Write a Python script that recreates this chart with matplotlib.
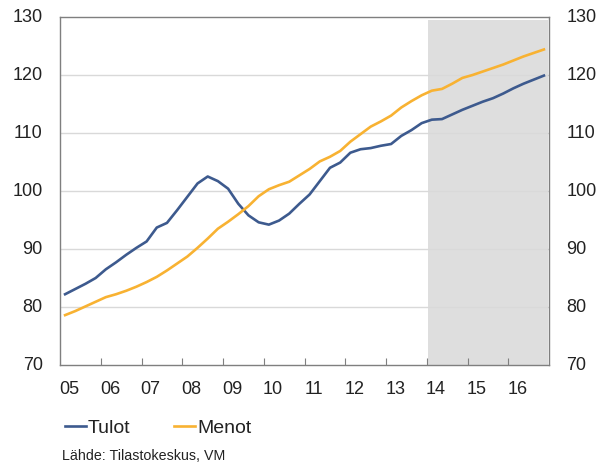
import matplotlib
matplotlib.use("Agg")
import matplotlib.pyplot as plt
import numpy as np

plt.rcParams['font.family'] = ['Liberation Sans', 'DejaVu Sans']

# Quarterly index values, 2005Q1 .. 2016Q4
years = ['05', '06', '07', '08', '09', '10', '11', '12', '13', '14', '15', '16']
tulot = [82.2, 83.1, 84.0, 85.0, 86.5, 87.7, 89.0, 90.2,
         91.3, 93.7, 94.5, 96.7, 99.0, 101.3, 102.5, 101.7,
         100.4, 97.8, 95.8, 94.6, 94.2, 94.9, 96.1, 97.8,
         99.4, 101.7, 104.0, 104.9, 106.6, 107.2, 107.4, 107.8,
         108.1, 109.5, 110.5, 111.7, 112.3, 112.4, 113.2, 114.0,
         114.7, 115.4, 116.0, 116.8, 117.7, 118.5, 119.2, 119.9]
menot = [78.6, 79.3, 80.1, 80.9, 81.7, 82.2, 82.8, 83.5,
         84.3, 85.2, 86.3, 87.5, 88.7, 90.2, 91.8, 93.5,
         94.7, 96.0, 97.4, 99.1, 100.3, 101.0, 101.6, 102.7,
         103.8, 105.1, 105.9, 106.9, 108.5, 109.8, 111.1, 112.0,
         113.0, 114.4, 115.5, 116.5, 117.3, 117.6, 118.5, 119.5,
         120.0, 120.6, 121.2, 121.8, 122.5, 123.2, 123.8, 124.4]
forecast_start = '14'

BLUE = '#3D5A8E'
ORANGE = '#F8B232'
GRID = '#D9D9D9'
SPINE = '#7F7F7F'
TEXT = '#222222'

fig = plt.figure(figsize=(6.03, 4.66), dpi=100)
ax = fig.add_axes([60 / 603, 1 - 365 / 466, 489 / 603, 348 / 466])

x = np.arange(len(tulot))
n_years = len(years)

# Forecast period shading
fs = years.index(forecast_start) * 4 - 0.4
ax.axvspan(fs, len(tulot) - 0.55, ymin=0, ymax=0.992, color='#DEDEDE', lw=0, zorder=0)

ax.plot(x, tulot, color=BLUE, lw=1.9, label='Tulot', zorder=3)
ax.plot(x, menot, color=ORANGE, lw=1.9, label='Menot', zorder=3)

ax.set_xlim(-0.5, len(tulot) - 0.5)
ax.set_ylim(70, 130)

# Horizontal grid
for v in range(80, 130, 10):
    ax.axhline(v, color=GRID, lw=1.0, zorder=1)

# y ticks on both sides, no tick marks
ax.set_yticks(list(range(70, 131, 10)))
ax.tick_params(axis='y', which='major', length=0, labelsize=13, colors=TEXT,
               labelright=True, right=False)
ax.tick_params(axis='y', which='major', pad=12.5)
for lab in ax.get_yticklabels(which='major'):
    lab.set_va('center')

# x: tick marks at year boundaries, labels near year start (Excel style)
ax.set_xticks([4 * i - 0.5 for i in range(1, n_years)])
ax.set_xticklabels([])
ax.set_xticks([4 * i + 0.4 for i in range(n_years)], minor=True)
ax.set_xticklabels(years, minor=True)
ax.tick_params(axis='x', which='major', direction='in', length=5, color=SPINE)
ax.tick_params(axis='x', which='minor', length=0, labelsize=13, pad=11.5, colors=TEXT)

for s in ax.spines.values():
    s.set_color(SPINE)
    s.set_linewidth(1.0)

leg = fig.legend(loc='center left', bbox_to_anchor=(65 / 603, 1 - 428 / 466),
                 ncol=2, frameon=False, fontsize=14, handlelength=1.08,
                 handletextpad=0.1, columnspacing=2.25, borderpad=0,
                 borderaxespad=0)
for t in leg.get_texts():
    t.set_color(TEXT)

fig.text(62 / 603, 1 - 456 / 466, 'Lähde: Tilastokeskus, VM', fontsize=10.3,
         color=TEXT, va='center', ha='left')

fig.savefig('out.png', dpi=100)
